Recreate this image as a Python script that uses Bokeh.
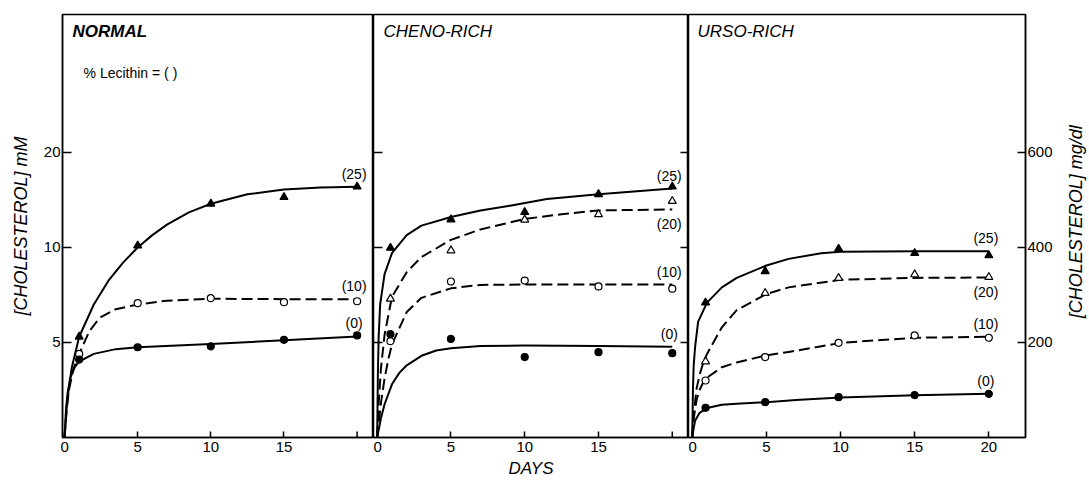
import math
from bokeh.plotting import figure
from bokeh.layouts import row
from bokeh.models import Range1d, LinearAxis, FixedTicker, Label, ColumnDataSource
from bokeh.core.properties import value
from bokeh.embed import file_html
from bokeh.resources import INLINE

FONT = "Liberation Sans"

# ---------------- data (cholesterol in mM, time in days) ----------------
MG_PER_MM = 40          # ratio drawn between the right (mg/dl) and left (mM) axes
Y_TOP = 22.26           # top of the panels, mM
LEFT_TICKS = [5, 10, 15]
LEFT_TICK_TEXT = {15: "20"}   # as printed on the original axis
RIGHT_TICKS = [200, 400, 600]
X_TICKS = [0, 5, 10, 15, 20]
X_TICKS_SHORT = [0, 5, 10, 15]   # labelled ticks of the first two panels

# NORMAL
normal_days = [1, 5, 10, 15, 20]
normal_pts_25 = [5.3, 10.1, 12.3, 12.65, 13.2]
normal_pts_10 = [4.4, 7.07, 7.33, 7.12, 7.17]
normal_pts_0 = [4.1, 4.75, 4.8, 5.14, 5.37]
normal_c25_x = [0, 0.15, 0.3, 0.5, 1, 2, 3, 4, 5, 6, 7, 8.5, 10, 12.5, 15, 17.5, 20]
normal_c25_y = [0, 1.6, 2.65, 3.7, 5.3, 7.0, 8.25, 9.2, 10.0, 10.65, 11.2, 11.85, 12.3, 12.8, 13.05, 13.15, 13.2]
normal_c10_x = [0, 0.15, 0.3, 0.6, 1, 1.7, 2.4, 3.5, 5, 7, 10, 15, 20]
normal_c10_y = [0, 1.5, 2.5, 3.6, 4.4, 5.6, 6.3, 6.75, 7.0, 7.2, 7.3, 7.28, 7.28]
normal_c0_x = [0, 0.1, 0.2, 0.4, 0.7, 1, 2, 3.5, 5, 10, 15, 20]
normal_c0_y = [0, 1.5, 2.3, 3.15, 3.7, 4.0, 4.4, 4.65, 4.75, 4.92, 5.12, 5.32]

# CHENO-RICH
cheno_days = [0.9, 5, 10, 15, 20]
cheno_pts_25 = [9.98, 11.47, 11.86, 12.8, 13.2]
cheno_pts_20 = [7.3, 9.84, 11.46, 11.74, 12.44]
cheno_pts_10 = [5.07, 8.21, 8.26, 7.95, 7.83]
cheno_pts_0 = [5.44, 5.19, 4.23, 4.49, 4.44]
cheno_c25_x = [0, 0.05, 0.1, 0.2, 0.5, 1, 2, 3, 5, 7, 9, 11.5, 15, 20]
cheno_c25_y = [0, 3.5, 5.3, 7.0, 8.6, 9.7, 10.65, 11.15, 11.6, 11.95, 12.2, 12.55, 12.8, 13.1]
cheno_c20_x = [0, 0.1, 0.25, 0.5, 1, 2, 3, 5, 7, 10, 12.5, 15, 20]
cheno_c20_y = [0, 1.8, 3.6, 5.4, 7.4, 8.7, 9.5, 10.4, 10.95, 11.5, 11.75, 11.95, 12.0]
cheno_c10_x = [0, 0.25, 0.5, 0.75, 1, 2, 3, 5, 7, 10, 15, 20]
cheno_c10_y = [0, 1.8, 3.1, 4.1, 4.9, 6.6, 7.35, 7.85, 8.03, 8.05, 8.05, 8.05]
cheno_c0_x = [0, 0.25, 0.5, 1, 1.5, 2, 3, 4, 5, 7, 10, 15, 20]
cheno_c0_y = [0, 1.0, 1.75, 2.8, 3.4, 3.8, 4.3, 4.58, 4.7, 4.82, 4.84, 4.82, 4.78]

# URSO-RICH
urso_days = [0.9, 4.92, 9.87, 15, 20]
urso_pts_25 = [7.1, 8.75, 9.93, 9.7, 9.58]
urso_pts_20 = [4.0, 7.6, 8.39, 8.58, 8.44]
urso_pts_10 = [3.0, 4.23, 4.98, 5.37, 5.25]
urso_pts_0 = [1.56, 1.86, 2.12, 2.23, 2.3]
urso_c25_x = [0, 0.05, 0.1, 0.2, 0.4, 1, 2, 3, 5, 6.5, 8.7, 10, 15, 20]
urso_c25_y = [0, 2.5, 3.8, 4.8, 6.1, 7.1, 7.9, 8.4, 9.05, 9.4, 9.7, 9.78, 9.8, 9.8]
urso_c20_x = [0, 0.1, 0.3, 0.5, 0.75, 1, 2, 3, 5, 6.5, 10, 15, 20]
urso_c20_y = [0, 1.2, 2.6, 3.3, 3.95, 4.4, 5.8, 6.7, 7.55, 7.9, 8.3, 8.4, 8.42]
urso_c10_x = [0, 0.1, 0.3, 0.5, 0.8, 1, 2, 3, 5, 6.5, 10, 15, 20]
urso_c10_y = [0, 1.0, 2.0, 2.5, 3.0, 3.15, 3.7, 3.95, 4.32, 4.5, 4.98, 5.25, 5.3]
urso_c0_x = [0, 0.1, 0.2, 0.5, 1, 2, 3, 5, 7, 10, 15, 20]
urso_c0_y = [0, 0.5, 0.9, 1.3, 1.55, 1.72, 1.78, 1.86, 1.97, 2.1, 2.22, 2.3]

# series style: marker, filled, dashed
SERIES_STYLE = {
    "25": ("triangle", True, False),
    "20": ("triangle", False, True),
    "10": ("circle", False, True),
    "0": ("circle", True, False),
}

FRAME_H = 423
TOP_B, BOTTOM_B = 14, 46

panels = [
    dict(title="NORMAL", bold=True, days=normal_days,
         xr=(-0.14, 21.12), fw=311, bl=62, br=0,
         series=[("25", normal_pts_25, normal_c25_x, normal_c25_y, "above"),
                 ("10", normal_pts_10, normal_c10_x, normal_c10_y, "above"),
                 ("0", normal_pts_0, normal_c0_x, normal_c0_y, "above")]),
    dict(title="CHENO-RICH", bold=False, days=cheno_days,
         xr=(-0.25, 21.1), fw=315, bl=0, br=0,
         series=[("25", cheno_pts_25, cheno_c25_x, cheno_c25_y, "above"),
                 ("20", cheno_pts_20, cheno_c20_x, cheno_c20_y, "below"),
                 ("10", cheno_pts_10, cheno_c10_x, cheno_c10_y, "above"),
                 ("0", cheno_pts_0, cheno_c0_x, cheno_c0_y, "above")]),
    dict(title="URSO-RICH", bold=False, days=urso_days,
         xr=(-0.25, 22.47), fw=337, bl=0, br=36,
         series=[("25", urso_pts_25, urso_c25_x, urso_c25_y, "above"),
                 ("20", urso_pts_20, urso_c20_x, urso_c20_y, "below"),
                 ("10", urso_pts_10, urso_c10_x, urso_c10_y, "above"),
                 ("0", urso_pts_0, urso_c0_x, urso_c0_y, "above")]),
]


def style_axis(ax, tick_in, size="15px", standoff=3):
    ax.axis_line_color = "black"
    ax.axis_line_width = 1.5
    ax.major_tick_line_color = "black"
    ax.major_tick_line_width = 1.5
    ax.major_tick_in = tick_in
    ax.major_tick_out = 0
    ax.minor_tick_line_color = None
    ax.major_label_text_font = FONT
    ax.major_label_text_color = "black"
    ax.major_label_text_font_size = size
    ax.major_label_standoff = standoff
    ax.axis_label_text_color = "black"
    ax.axis_label_text_font = FONT
    ax.axis_label_text_font_style = "italic"


def tick_marks(p, x, ys, length, angle):
    # short unlabelled tick marks drawn inward from a panel edge
    p.ray(x=[x] * len(ys), y=ys, length=length, length_units="screen",
          angle=angle, line_color="black", line_width=1.5)


figs = []
for i, pn in enumerate(panels):
    p = figure(frame_width=pn["fw"], frame_height=FRAME_H,
               x_range=Range1d(*pn["xr"]), y_range=Range1d(0, Y_TOP),
               output_backend="svg", toolbar_location=None,
               x_axis_location=None, y_axis_location=None,
               min_border_left=pn["bl"], min_border_right=pn["br"],
               min_border_top=TOP_B, min_border_bottom=BOTTOM_B)
    p.grid.visible = False
    p.outline_line_color = "black"
    p.outline_line_width = 1.5
    p.background_fill_color = "white"
    p.border_fill_color = "white"

    # bottom axis
    if i < 2:
        xa = LinearAxis(ticker=FixedTicker(ticks=X_TICKS_SHORT))
        style_axis(xa, 6, size="15px", standoff=4)
        # tick at day 20 without a label
        tick_marks(p, X_TICKS[-1], [0], 6, math.pi / 2)
    else:
        xa = LinearAxis(ticker=FixedTicker(ticks=X_TICKS))
        style_axis(xa, 6, size="15px", standoff=4)
    if i == 1:
        xa.axis_label = "DAYS"
        xa.axis_label_text_font_size = "17px"
        xa.axis_label_standoff = 4
    p.add_layout(xa, "below")

    # vertical axes
    if i == 0:
        ya = LinearAxis(ticker=FixedTicker(ticks=LEFT_TICKS))
        style_axis(ya, 9, standoff=2)
        ya.major_label_overrides = LEFT_TICK_TEXT
        ya.axis_label = "[CHOLESTEROL] mM"
        ya.axis_label_text_font_size = "18px"
        ya.axis_label_standoff = 10
        p.add_layout(ya, "left")
    elif i == 1:
        tick_marks(p, pn["xr"][0], LEFT_TICKS, 9, 0)
        tick_marks(p, pn["xr"][1], LEFT_TICKS, 8, math.pi)
    else:
        p.extra_y_ranges = {"mg": Range1d(0, Y_TOP * MG_PER_MM)}
        yr = LinearAxis(y_range_name="mg", ticker=FixedTicker(ticks=RIGHT_TICKS))
        style_axis(yr, 8, standoff=2)
        p.add_layout(yr, "right")

    # curves and points
    lab_x, lab_y, lab_t, lab_off, lab_base = [], [], [], [], []
    for key, pts, cx, cy, where in pn["series"]:
        marker, filled, dashed = SERIES_STYLE[key]
        p.line(cx, cy, line_color="black", line_width=2,
               line_dash="11 5" if dashed else "solid", line_join="round")
        p.scatter(pn["days"], pts, marker=marker,
                  size=8 if marker == "triangle" else 7,
                  fill_color="black" if filled else "white",
                  line_color="black", line_width=1.2)
        lab_x.append(cx[-1])
        lab_y.append(cy[-1])
        lab_t.append("(%s)" % key)
        lab_off.append(-5 if where == "above" else 7)
        lab_base.append("bottom" if where == "above" else "top")

    src = ColumnDataSource(dict(x=lab_x, y=lab_y, t=lab_t, off=lab_off, base=lab_base))
    p.text(x="x", y="y", text="t", source=src, x_offset=-3, y_offset="off",
           text_baseline="base", text_align="center",
           text_font=value(FONT), text_font_size="14px", text_color="black")

    # panel title
    p.add_layout(Label(x=[0.55, 0.43, 0.36][i], y=21.84, text=pn["title"],
                       text_font=FONT, text_font_size="17px",
                       text_font_style="bold italic" if pn["bold"] else "italic",
                       text_baseline="top", text_align="left", text_color="black"))
    if i == 0:
        p.add_layout(Label(x=1.3, y=19.58, text="% Lecithin = (    )",
                           text_font=FONT, text_font_size="14px",
                           text_baseline="top", text_align="left", text_color="black"))
    figs.append(p)

# narrow strip carrying the right-hand (mg/dl) axis title, read bottom-to-top
strip = figure(frame_width=28, frame_height=FRAME_H,
               x_range=Range1d(0, 1), y_range=Range1d(0, 1),
               output_backend="svg", toolbar_location=None,
               x_axis_location=None, y_axis_location=None,
               min_border_left=0, min_border_right=0,
               min_border_top=TOP_B, min_border_bottom=BOTTOM_B)
strip.grid.visible = False
strip.outline_line_color = None
strip.background_fill_color = "white"
strip.border_fill_color = "white"
strip.add_layout(Label(x=0.5, y=0.51, text="[CHOLESTEROL] mg/dl", angle=math.pi / 2,
                       text_font=FONT, text_font_size="18px", text_font_style="italic",
                       text_align="center", text_baseline="middle", text_color="black"))

layout = row(*figs, strip, spacing=0)
open("out.html", "w").write(file_html(layout, INLINE))
